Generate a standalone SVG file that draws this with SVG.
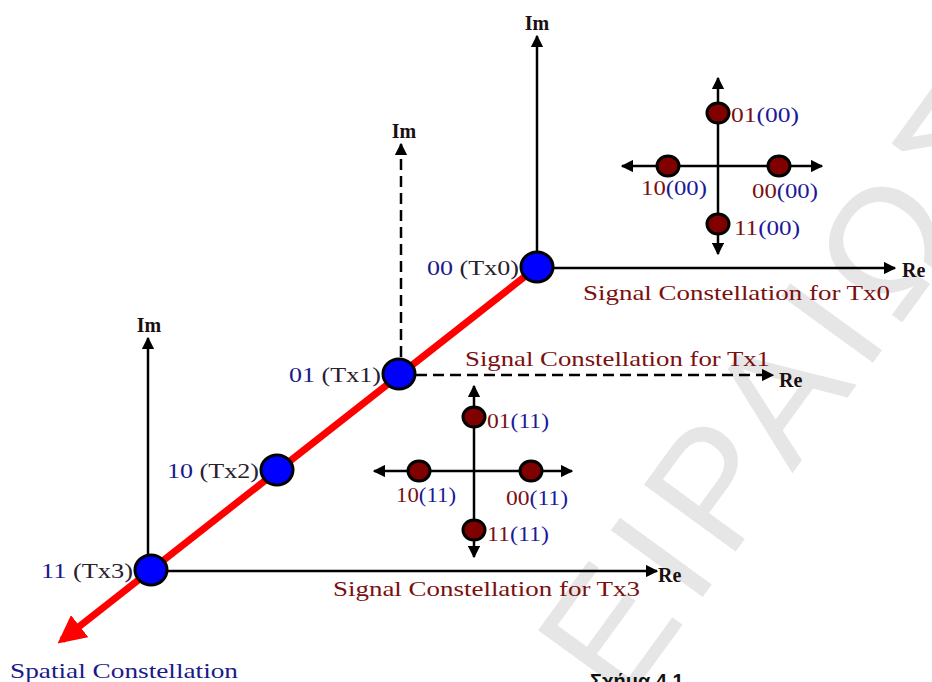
<svg xmlns="http://www.w3.org/2000/svg" width="932" height="682" viewBox="0 0 932 682">
<defs>
<marker id="ah" viewBox="0 0 10 10" refX="9" refY="5" markerWidth="5" markerHeight="5" orient="auto" markerUnits="strokeWidth">
<path d="M0,0 L10,5 L0,10 z" fill="#000"/>
</marker>
<marker id="ahr" viewBox="0 0 10 10" refX="8" refY="5" markerWidth="4" markerHeight="4" orient="auto" markerUnits="strokeWidth">
<path d="M0,0 L10,5 L0,10 z" fill="#ff0000"/>
</marker>
</defs>
<style>
.ax{stroke:#000;stroke-width:2.5;fill:none;marker-end:url(#ah)}
.dash{stroke-dasharray:11 6}
.tx{fill:#0000ff;stroke:#000;stroke-width:3}
.pt{fill:#800000;stroke:#000;stroke-width:3}
.sig{font-family:"Liberation Serif",serif;font-size:22px;fill:#7a1010}
.ax-l{font-family:"Liberation Serif",serif;font-size:20px;font-weight:bold;fill:#1a1010}
.c{font-family:"Liberation Serif",serif;font-size:22px}
.r{fill:#7a1010}
.b{fill:#1a1a99}
.n{fill:#1a1a8a}
.k{fill:#2a2030}
</style>
<rect width="932" height="682" fill="#fff"/>
<!-- watermark -->
<text x="622" y="708" transform="rotate(-54 622 708)" font-family="Liberation Sans, sans-serif" font-size="165" letter-spacing="12" fill="#e6e6e6">ΕΙΡΑΙΩΣ</text>

<g id="connectors">
<line class="ax" x1="537" y1="267" x2="537" y2="36"/>
<line class="ax" x1="537" y1="268" x2="895" y2="268"/>
<line class="ax dash" x1="401" y1="374" x2="401" y2="144"/>
<line class="ax dash" x1="399" y1="375" x2="773" y2="375"/>
<line class="ax" x1="148" y1="570" x2="148" y2="338"/>
<line class="ax" x1="151" y1="571" x2="657" y2="571"/>
<line x1="537" y1="267" x2="62" y2="640" stroke="#ff0000" stroke-width="7" marker-end="url(#ahr)"/>
<line class="ax" x1="718" y1="165" x2="718" y2="78"/>
<line class="ax" x1="718" y1="165" x2="718" y2="254"/>
<line class="ax" x1="718" y1="166" x2="822" y2="166"/>
<line class="ax" x1="718" y1="166" x2="622" y2="166"/>
<line class="ax" x1="474" y1="470" x2="474" y2="386"/>
<line class="ax" x1="474" y1="470" x2="474" y2="557"/>
<line class="ax" x1="474" y1="471" x2="572" y2="471"/>
<line class="ax" x1="474" y1="471" x2="374" y2="471"/>
</g>

<text class="ax-l" x="537" y="30" text-anchor="middle">Im</text>
<text class="ax-l" x="404" y="138" text-anchor="middle">Im</text>
<text class="ax-l" x="149" y="332" text-anchor="middle">Im</text>
<text class="ax-l" x="902" y="277">Re</text>
<text class="ax-l" x="779" y="387">Re</text>
<text class="ax-l" x="658" y="582">Re</text>

<text class="sig" x="583" y="300" textLength="307" lengthAdjust="spacingAndGlyphs">Signal Constellation for Tx0</text>
<text class="sig" x="465" y="366" textLength="305" lengthAdjust="spacingAndGlyphs">Signal Constellation for Tx1</text>
<text class="sig" x="333" y="596" textLength="307" lengthAdjust="spacingAndGlyphs">Signal Constellation for Tx3</text>
<text x="10" y="678" font-family="Liberation Serif, serif" font-size="22" fill="#1a1a8a" textLength="228" lengthAdjust="spacingAndGlyphs">Spatial Constellation</text>
<text x="590" y="688" font-family="Liberation Sans, sans-serif" font-size="20" font-weight="bold" fill="#111">Σχήμα 4.1</text>

<g id="tx0"><ellipse class="tx" cx="537" cy="267" rx="16" ry="15"/>
<text class="c" x="519" y="275" text-anchor="end" textLength="92" lengthAdjust="spacingAndGlyphs"><tspan class="n">00 </tspan><tspan class="k">(Tx0)</tspan></text></g>
<g id="tx1"><ellipse class="tx" cx="399" cy="374" rx="16" ry="15"/>
<text class="c" x="381" y="382" text-anchor="end" textLength="92" lengthAdjust="spacingAndGlyphs"><tspan class="n">01 </tspan><tspan class="k">(Tx1)</tspan></text></g>
<g id="tx2"><ellipse class="tx" cx="277" cy="470" rx="16" ry="15"/>
<text class="c" x="259" y="478" text-anchor="end" textLength="92" lengthAdjust="spacingAndGlyphs"><tspan class="n">10 </tspan><tspan class="k">(Tx2)</tspan></text></g>
<g id="tx3"><ellipse class="tx" cx="151" cy="570" rx="16" ry="15"/>
<text class="c" x="133" y="578" text-anchor="end" textLength="92" lengthAdjust="spacingAndGlyphs"><tspan class="n">11 </tspan><tspan class="k">(Tx3)</tspan></text></g>

<g id="c0-01"><ellipse class="pt" cx="718" cy="113" rx="11" ry="10"/><text class="c" x="731" y="122" textLength="68" lengthAdjust="spacingAndGlyphs"><tspan class="r">01</tspan><tspan class="b">(00)</tspan></text></g>
<g id="c0-10"><ellipse class="pt" cx="668" cy="166" rx="11" ry="10"/><text class="c" x="641" y="195" textLength="66" lengthAdjust="spacingAndGlyphs"><tspan class="r">10</tspan><tspan class="b">(00)</tspan></text></g>
<g id="c0-00"><ellipse class="pt" cx="779" cy="166" rx="11" ry="10"/><text class="c" x="752" y="198" textLength="66" lengthAdjust="spacingAndGlyphs"><tspan class="r">00</tspan><tspan class="b">(00)</tspan></text></g>
<g id="c0-11"><ellipse class="pt" cx="718" cy="224" rx="11" ry="10"/><text class="c" x="734" y="235" textLength="66" lengthAdjust="spacingAndGlyphs"><tspan class="r">11</tspan><tspan class="b">(00)</tspan></text></g>

<g id="c3-01"><ellipse class="pt" cx="474" cy="417" rx="11" ry="10"/><text class="c" x="487" y="428" textLength="62" lengthAdjust="spacingAndGlyphs"><tspan class="r">01</tspan><tspan class="b">(11)</tspan></text></g>
<g id="c3-10"><ellipse class="pt" cx="419" cy="471" rx="11" ry="10"/><text class="c" x="396" y="502" textLength="60" lengthAdjust="spacingAndGlyphs"><tspan class="r">10</tspan><tspan class="b">(11)</tspan></text></g>
<g id="c3-00"><ellipse class="pt" cx="531" cy="471" rx="11" ry="10"/><text class="c" x="506" y="505" textLength="62" lengthAdjust="spacingAndGlyphs"><tspan class="r">00</tspan><tspan class="b">(11)</tspan></text></g>
<g id="c3-11"><ellipse class="pt" cx="474" cy="530" rx="11" ry="10"/><text class="c" x="487" y="541" textLength="62" lengthAdjust="spacingAndGlyphs"><tspan class="r">11</tspan><tspan class="b">(11)</tspan></text></g>
</svg>
